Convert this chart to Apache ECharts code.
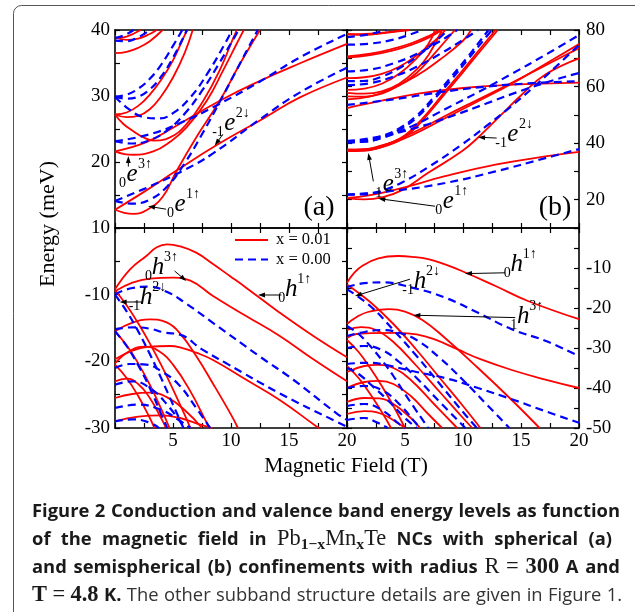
<!DOCTYPE html>
<html><head><meta charset="utf-8">
<script src="https://cdn.jsdelivr.net/npm/echarts@6/dist/echarts.min.js"></script>
<style>html,body{margin:0;padding:0;background:#fff}#c{width:635px;height:612px}</style>
</head><body><div id="c"></div>
<script>
// ---------- DATA ----------
// panel (a) conduction band, spherical, x = 0.01 (red) and x = 0.00 (blue)
const aRed = [
 [[0,12.76],[2.7,15.7],[5.3,18.7],[8.7,22.5],[12.8,26.6],[15.9,29.75],[20,32.8]],
 [[0,12.76],[0.8,12.3],[1.6,12.15],[2.7,12.7],[4.1,14.7],[5.3,18.6],[7,23.7],[9,29.2],[10.75,34.8],[12.5,40]],
 [[0,21.6],[2.7,23.0],[5,25.2],[9,29.25],[12.5,32.3],[16,35.0],[20,37.9]],
 [[0,21.6],[0.8,21.2],[1.6,21.1],[3.3,21.6],[4.7,23.0],[6.15,25.2],[7.9,29.25],[9.3,33.8],[10.6,38.3],[11.1,40]],
 [[0,27.2],[0.7,25.8],[1.55,24.7],[2.5,23.7],[3.3,23.25],[4.7,23.7],[6.15,25.7],[7.6,29.25],[9.0,33.8],[10.2,38.8],[10.5,40]],
 [[0,27.2],[1,27.5],[2,28.5],[3,30.2],[4,32.5],[5,35.4],[6,39.2],[6.25,40]],
 [[0,27.2],[1,26.8],[2,27],[3,28],[4,30],[5,32.8],[6,36.5],[6.7,40]],
 [[0,36.5],[1,36.7],[2,37.3],[3,38.3],[4.1,40]],
 [[0,38.9],[1,38.5],[2,38.7],[3,39.4],[3.6,40]],
 [[0,38.7],[1,39],[2.2,40]]
];
const aBlue = [
 [[0,14.1],[3,16.3],[6,18.8],[8.45,21.3],[12.76,26.8],[16,30.6],[20,34.3]],
 [[0,14.1],[1.5,13.7],[3,14.3],[4.5,16.3],[6,19.8],[7.5,24.2],[9,29],[10.5,34],[12,39],[12.3,40]],
 [[0,23.15],[3,24.2],[6,26.2],[9,28.8],[12.5,32.2],[16,35.9],[20,39.4]],
 [[0,23.15],[1.5,22.8],[3,23.3],[4.5,24.8],[6,27.3],[7.5,30.8],[9,35],[10.5,39.5],[10.7,40]],
 [[0,29.9],[1.2,28],[2.5,26.8],[3.8,26.6],[5,27.4],[6.5,29.8],[8,33.5],[9.5,38],[10.1,40]],
 [[0,29.9],[1,30.2],[2,31.1],[3,32.6],[4,34.8],[5,37.6],[5.8,40]],
 [[0,29.9],[1,29.6],[2,29.9],[3,31],[4,33],[5,35.8],[6.2,40]],
 [[0,38.4],[1,38.3],[2,38.9],[3,40]],
 [[0,38.8],[0.8,39.2],[1.6,40]]
];
// panel (b) conduction band, semispherical
const bRed = [
 [[0,20.6],[2,21.6],[4.7,24.1],[8.45,28.3],[12.8,32.4],[17.1,35.3],[20,36.9]],
 [[0,20.6],[1.5,20.1],[3,20.8],[4.7,23.3],[7,29.5],[9.9,37.1],[11.3,42],[13.05,49],[15.06,57.1],[17.07,64.2],[20,70]],
 [[0,37.7],[1.5,37.9],[2.7,38.6],[5.6,43.5],[8.45,49.6],[11.3,55.4],[14.2,61.3],[17.1,67.5],[20,73.6]],
 [[0,37.4],[1.5,37.5],[2.7,38.2],[5.6,42.8],[8.45,48.8],[11.3,54.8],[14.2,61],[17.1,68],[20,75]],
 [[0,37.7],[1.5,37.8],[3,39.2],[4,40.5],[5,42.8],[6,46.5],[7,51],[8.45,58.3],[9.9,65.4],[11.3,72.5],[12.8,80]],
 [[0,37.2],[1.5,37.3],[3,38.6],[4,40],[5,42.2],[6,45.8],[7,50.3],[8.45,57.5],[9.9,64.6],[11.3,71.6],[13,80]],
 [[0,52.4],[3,55],[6,57.4],[10,59.5],[14,60.6],[20,61.4]],
 [[0,57.8],[1.5,57.5],[3,58.3],[4.5,61],[6,66],[7,71],[8.2,80]],
 [[0,56.5],[1.5,56.4],[3,57.5],[4.5,60.4],[6,64.8],[7.5,71.5],[9.3,80]],
 [[0,58.8],[1.5,59.3],[3,61],[4.5,64.5],[6,70],[7,75],[7.6,80]],
 [[0,55.5],[2,56.5],[4,59.5],[6,63.8],[8,69.5],[10,76.2],[10.7,80]],
 [[0,63],[1.5,63.3],[3,64.5],[4.5,67],[6,71],[7.5,76],[8.5,80]],
 [[0,70.7],[2,71.6],[4,73.4],[5.6,75.4],[7,77.8],[8,80]],
 [[0,70.2],[2,71.1],[4,72.8],[5.6,74.8],[7,77.2],[8.2,80]],
 [[0,78.5],[1.5,78.3],[3,78.8],[4.9,80]],
 [[0,78.5],[2,78.7],[4,79.4],[5.4,80]]
];
const bBlue = [
 [[0,21.8],[4.1,23.2],[8.45,25.9],[12.8,30.0],[17.1,34.7],[20,37.9]],
 [[0,21.8],[1.5,21.9],[3,23.2],[4.7,26],[7,31.5],[9.9,39.5],[12,46],[14,52.5],[16,59.5],[18,67],[20,74.7]],
 [[0,40.3],[1.5,40.6],[3,41.8],[5.6,46],[8.45,52],[11.3,58],[14.2,64.5],[17.1,71.2],[20,78.2]],
 [[0,40.3],[1.5,40.5],[3,42],[4.5,44.7],[6,49],[7.5,55.5],[9,62.5],[10.5,70],[12,77.5],[12.5,80]],
 [[0,40.8],[1.5,41],[3,42.5],[4.5,45.2],[6,49.7],[7.5,56.3],[9,63.5],[10.5,71],[12.2,80]],
 [[0,40.6],[3,42.5],[6,45.5],[9,49.5],[12,54],[15,58.5],[18,62.5],[20,64.8]],
 [[0,53.5],[4,55.5],[8,58],[12,60],[16,61.2],[20,61.9]],
 [[0,61.9],[1.5,62],[3,63.5],[4.5,66.5],[6,70.5],[7.5,75.5],[8.7,80]],
 [[0,60.5],[2,61.2],[4,63.5],[6,67],[8,71.5],[10,76.5],[11.3,80]],
 [[0,65.4],[2,66],[4,68.2],[6,71.5],[8,76],[9.5,80]],
 [[0,74.8],[2,75.2],[4,76.6],[5.5,78.5],[6.5,80]],
 [[0,77.5],[1.5,78.2],[3,79.5],[3.4,80]]
];
// panel (c) valence band, spherical
const cRed = [
 [[0,-9.2],[1.3,-6.2],[2.7,-4.2],[3.6,-2.9],[4.5,-2.45],[5.6,-2.75],[7,-3.7],[8.45,-5.4],[9.9,-7.2],[11.3,-8.95],[14.2,-12.7],[17.1,-16.2],[20,-19.4]],
 [[0,-9.5],[1.5,-8.2],[3,-7.6],[5,-7.45],[6.5,-7.9],[8.45,-10.2],[11.3,-13.2],[14.2,-16.2],[17.1,-19.7],[20,-23]],
 [[0,-15.5],[1.5,-14.2],[3,-13.7],[4.5,-14.2],[5.6,-15.8],[7,-19.2],[8.5,-23.5],[10,-28],[10.6,-30]],
 [[0,-19.7],[1.5,-18.4],[3,-17.8],[4.7,-17.7],[5.6,-17.9],[7,-18.7],[8.45,-19.8],[11.35,-22.8],[14.2,-25.8],[17.4,-29.8],[17.6,-30]],
 [[0,-20.3],[1.3,-18.4],[2.6,-17.8],[3.8,-18.5],[5,-20.5],[6.5,-24.5],[8,-29.5],[8.2,-30]],
 [[0,-9.3],[1,-11.6],[2,-14.3],[3,-17.3],[4,-20.6],[5,-24.2],[6,-28],[6.5,-30]],
 [[0,-15.5],[1,-17.6],[2,-20.3],[3,-23.5],[4,-27.2],[4.7,-30]],
 [[0,-20.5],[1,-22.5],[2,-25.2],[3,-28.5],[3.4,-30]],
 [[0,-25.5],[1.5,-24.9],[3,-24.7],[4.5,-25.4],[6,-27.3],[7.5,-30]],
 [[0,-29],[2,-28.3],[4,-28.1],[5.6,-28.5],[7,-29.3],[8.4,-30]],
 [[0,-23],[1,-22.6],[2,-23.4],[3,-25.5],[4,-28.6],[4.4,-30]]
];
const cBlue = [
 [[0,-9.95],[1.5,-9.0],[3,-8.8],[4.5,-9.6],[5.9,-11.05],[8.5,-14.3],[12.5,-19.3],[15.4,-22.8],[19.1,-27.8],[20,-28.8]],
 [[0,-15.2],[1.5,-14.9],[3,-15.1],[4.3,-15.7],[5.6,-16.0],[7.5,-18.2],[9.6,-20.3],[14.2,-24.8],[18.8,-28.8],[20,-29.8]],
 [[0,-10],[1,-12.5],[2,-15.5],[3,-18.9],[4,-22.6],[5,-26.5],[5.9,-30]],
 [[0,-15.5],[1,-17.7],[2,-20.6],[3,-24],[4,-28],[4.5,-30]],
 [[0,-21],[1.3,-20.4],[2.7,-20.5],[4,-21.5],[5.5,-23.5],[7,-27],[8.2,-30]],
 [[0,-23.5],[1.5,-23],[3,-24],[4.5,-26.5],[6,-30]],
 [[0,-27],[2,-26.5],[4,-27.3],[5.5,-28.8],[6.5,-30]],
 [[0,-29],[1.5,-28.7],[3,-29.2],[3.8,-30]]
];
// panel (d) valence band, semispherical
const dRed = [
 [[0,-13.7],[0.6,-11.3],[1.3,-9.5],[2.7,-7.6],[4.4,-7.0],[5.6,-7.2],[7,-7.8],[8.45,-9.1],[9.9,-10.75],[12.8,-14.5],[15.6,-18.25],[20,-22.8]],
 [[0,-24],[0.8,-22.3],[1.8,-21.0],[3.6,-20.3],[5,-20.9],[6.5,-23],[8.45,-27.5],[11.3,-35],[14.2,-43],[16.6,-50]],
 [[0,-27.5],[0.8,-26.5],[2,-26.3],[4.4,-26.2],[6,-26.6],[7.5,-27.8],[9.5,-30.3],[11.5,-32.8],[14.2,-35.5],[17.1,-37.9],[20,-40]],
 [[0,-14.1],[2,-18.5],[4,-24],[6,-30.5],[8,-37.5],[10,-44.5],[11.5,-50]],
 [[0,-25.5],[1.2,-24.8],[2.5,-25.5],[4,-28.5],[6,-34.5],[8,-41],[10,-47.5],[10.8,-50]],
 [[0,-36],[1.5,-34.5],[2.7,-34.2],[4,-35],[5.5,-38],[7.5,-44],[9.5,-50]],
 [[0,-40],[1.5,-38.5],[2.8,-38.2],[4,-39],[5.5,-42],[7,-46.5],[8.2,-50]],
 [[0,-43.5],[1.5,-42.5],[2.8,-42.6],[4,-44],[5.5,-47.5],[6.3,-50]],
 [[0,-46.5],[1.5,-45.8],[3,-46.5],[4.5,-49],[5,-50]],
 [[0,-28],[1,-31],[2,-35],[3,-39.5],[4,-44.5],[5,-50]],
 [[0,-34.5],[1,-37.5],[2,-41.5],[3,-46],[3.8,-50]]
];
const dBlue = [
 [[0,-14.8],[1.5,-13.8],[3,-13.6],[5.6,-14.9],[8.45,-17.4],[11.3,-21.2],[14.2,-25.3],[17.1,-28.2],[20,-32]],
 [[0,-34],[1.5,-33.7],[3,-34],[4.5,-35],[6,-36],[8.45,-37.5],[11.3,-40],[14.2,-42.8],[17.1,-45.8],[20,-48.7]],
 [[0,-27],[1.5,-26],[3,-25.5],[4.5,-26.2],[6,-28],[8,-32.5],[10,-38],[12,-44],[14,-50]],
 [[0,-15.3],[2,-19.5],[4,-25.5],[6,-32],[8,-39],[10,-46],[11.2,-50]],
 [[0,-30],[1.5,-29.5],[3,-30.5],[4.5,-33.5],[6,-37.5],[8,-43.5],[10.2,-50]],
 [[0,-35],[1,-36.5],[2,-39],[3.5,-43],[5,-47.5],[6,-50]],
 [[0,-40],[1.5,-39.5],[3,-40.5],[4.5,-44],[6,-49],[6.3,-50]],
 [[0,-44.5],[1.5,-44],[3,-45.5],[4.5,-49],[5,-50]],
 [[0,-48],[1.5,-47.5],[2.5,-48.5],[3.5,-50]],
 [[0,-24.5],[1,-26.5],[2,-29.5],[3,-33],[4,-37],[5,-41.5],[7,-50]]
];
const legendNames = ['x = 0.01', 'x = 0.00'];
const panelTags = ['(a)', '(b)'];
// annotations: grid index, letter, left subscript, superscript, text position, arrow from/to (data coords)
const notes = [
 {g:0, m:'e', pre:'0',  sup:'3↑', at:[1.47,18.13], from:[1.15,19.3], to:[1.15,20.9]},
 {g:0, m:'e', pre:'0',  sup:'1↑', at:[5.6,13.6],  from:[4.4,12.85], to:[2.85,13.3]},
 {g:0, m:'e', pre:'-1', sup:'2↓', at:[9.9,25.8],  from:[9.3,24.2],  to:[8.6,22.5]},
 {g:1, m:'e', pre:'1',  sup:'3↑', at:[3.56,25.3], from:[2.27,26.5], to:[1.84,36.5]},
 {g:1, m:'e', pre:'0',  sup:'1↑', at:[8.73,19.5], from:[7.59,17.7], to:[2.7,20.4]},
 {g:1, m:'e', pre:'-1', sup:'2↓', at:[14.3,43.0], from:[12.9,41.8], to:[11.3,42.1]},
 {g:2, m:'h', pre:'0',  sup:'3↑', at:[3.7,-5.95], from:[5.14,-6.45],to:[6.15,-7.95]},
 {g:2, m:'h', pre:'-1', sup:'2↓', at:[2.7,-10.45],from:[2.41,-11.1],to:[0.4,-11.1]},
 {g:2, m:'h', pre:'0',  sup:'1↑', at:[15.2,-9.2], from:[14.34,-10.05],to:[12.33,-10.05]},
 {g:3, m:'h', pre:'0',  sup:'1↑', at:[14.63,-9.1],from:[13.62,-11.2],to:[10.17,-11.4]},
 {g:3, m:'h', pre:'-1', sup:'2↓', at:[6.29,-13.25],from:[5.43,-12.8],to:[0.69,-17.0]},
 {g:3, m:'h', pre:'1',  sup:'3↑', at:[15.2,-22.0], from:[14.5,-22.4], to:[5.72,-21.8]}
];

// ---------- CHART ----------
const RED = '#ff0000', BLUE = '#0000ff';
const SERIF = '"Liberation Serif", "Times New Roman", serif';
const chart = echarts.init(document.getElementById('c'), null, {renderer:'canvas'});

const grids = [
 {left:115, top:30,  width:232, height:198},
 {left:347, top:30,  width:232, height:198},
 {left:115, top:228, width:232, height:200},
 {left:347, top:228, width:232, height:200}
];
const yRange = [[10,40,2],[10,80,0],[-30,0,2],[-50,0,2]];

function baseAxis(){
 return {
  axisLine:{show:true,onZero:false,lineStyle:{color:'#000',width:1.6}},
  axisTick:{show:true,inside:true,length:5,lineStyle:{color:'#000',width:1.2}},
  splitLine:{show:false}, minorSplitLine:{show:false}
 };
}
const xAxes = [], yAxes = [];
for (let g=0; g<4; g++){
 ['bottom','top'].forEach(pos=>{
  const showLab = (g>=2 && pos==='bottom');
  xAxes.push(Object.assign(baseAxis(), {
   type:'value', gridIndex:g, position:pos, min:0, max:20, interval:5,
   minorTick:{show:true,splitNumber:2,length:5,lineStyle:{color:'#000',width:1.2}},
   axisLabel:{show:showLab, margin:4, fontFamily:SERIF, fontSize:19, color:'#000',
     showMinLabel:true, showMaxLabel:true, formatter:v=>v===0?'':String(v)}
  }));
 });
 ['left','right'].forEach(pos=>{
  const [mn,mx,minor] = yRange[g];
  const showLab = (g%2===0 && pos==='left') || (g%2===1 && pos==='right');
  let fmt;
  if (g===0) fmt = v=>String(v);
  else if (g===1) fmt = v=>(v%20===0?String(v):'');
  else fmt = v=>(v===0?'':String(v));
  yAxes.push(Object.assign(baseAxis(), {
   type:'value', gridIndex:g, position:pos, min:mn, max:mx, interval:10,
   minorTick:{show:minor>0,splitNumber:minor||2,length:5,lineStyle:{color:'#000',width:1.2}},
   axisLabel:{show:showLab, margin:pos==='left'?5:7, fontFamily:SERIF, fontSize:19, color:'#000',
     showMinLabel:true, showMaxLabel:true, formatter:fmt}
  }));
 });
}

const series = [];
function addCurves(curves, isRed, g){
 curves.forEach(c=>series.push({
  type:'line', name: isRed?legendNames[0]:legendNames[1], data:c,
  xAxisIndex:2*g, yAxisIndex:2*g, symbol:'none', showSymbol:false,
  smooth:0.45, silent:true, clip:true,
  lineStyle: isRed?{color:RED,width:1.8}:{color:BLUE,width:2.2,type:[8,5]},
  z: isRed?2:3
 }));
}
addCurves(aRed,true,0); addCurves(bRed,true,1); addCurves(cRed,true,2); addCurves(dRed,true,3);
addCurves(aBlue,false,0); addCurves(bBlue,false,1); addCurves(cBlue,false,2); addCurves(dBlue,false,3);

chart.setOption({
 animation:false, backgroundColor:'#fff',
 grid:grids, xAxis:xAxes, yAxis:yAxes, series:series
});

// ---------- TEXT / DECORATION ----------
const mctx = document.createElement('canvas').getContext('2d');
function cssFont(st){ return (st.style||'normal')+' '+(st.weight||'normal')+' '+st.size+'px '+st.family; }
function tw(t, st){ mctx.font = cssFont(st); return mctx.measureText(t).width; }
function baseOff(st){ mctx.font = cssFont(st); mctx.textBaseline='middle'; const m = mctx.measureText('H'); mctx.textBaseline='alphabetic'; return m.actualBoundingBoxDescent; }
function txt(t, x, y, st, align, vAlign, extra){
 return Object.assign({type:'text', x:x, y:y, z:100, silent:true, style:{
  text:t, fontFamily:st.family, fontSize:st.size, fontWeight:st.weight||'normal', fontStyle:st.style||'normal',
  fill:st.fill||'#000', align:align||'left', verticalAlign:vAlign||'middle'}}, extra||{});
}
const gfx = [];
gfx.push({type:'rect', z:100, silent:true, shape:{x:13.5,y:5.5,width:700,height:700,r:8}, style:{fill:'none',stroke:'#555',lineWidth:1}});
gfx.push(txt('Energy (meV)', 48, 224, {family:SERIF,size:22}, 'center','middle',{rotation:Math.PI/2}));
gfx.push(txt('Magnetic Field (T)', 346, 466, {family:SERIF,size:21.5}, 'center','middle'));
gfx.push(txt(panelTags[0], 319, 208, {family:SERIF,size:28}, 'center','middle'));
gfx.push(txt(panelTags[1], 555, 208, {family:SERIF,size:28}, 'center','middle'));
gfx.push({type:'line', z:100, silent:true, shape:{x1:235,y1:240,x2:268,y2:240}, style:{stroke:RED,lineWidth:1.8}});
gfx.push({type:'line', z:100, silent:true, shape:{x1:235,y1:259.5,x2:268,y2:259.5}, style:{stroke:BLUE,lineWidth:2.2,lineDash:[8,5]}});
gfx.push(txt(legendNames[0], 276, 240, {family:SERIF,size:16.5}, 'left','middle'));
gfx.push(txt(legendNames[1], 276, 259.5, {family:SERIF,size:16.5}, 'left','middle'));

const mainSt = {family:SERIF,size:25,style:'italic'}, smallSt = {family:SERIF,size:14};
notes.forEach(n=>{
 const conv = p=>chart.convertToPixel({xAxisIndex:2*n.g, yAxisIndex:2*n.g}, p);
 const P = conv(n.at), A = conv(n.from), B = conv(n.to);
 const dx=B[0]-A[0], dy=B[1]-A[1], L=Math.hypot(dx,dy)||1, ux=dx/L, uy=dy/L, len=7, w=2.4;
 gfx.push({type:'line', z:100, silent:true, shape:{x1:A[0],y1:A[1],x2:B[0]-ux*len*0.6,y2:B[1]-uy*len*0.6}, style:{stroke:'#000',lineWidth:1}});
 gfx.push({type:'polygon', z:100, silent:true, shape:{points:[[B[0],B[1]],[B[0]-ux*len-uy*w,B[1]-uy*len+ux*w],[B[0]-ux*len+uy*w,B[1]-uy*len-ux*w]]}, style:{fill:'#000'}});
 gfx.push(txt(n.m, P[0], P[1], mainSt, 'center','middle'));
 gfx.push(txt(n.pre, P[0]-6, P[1]+9, smallSt, 'right','middle'));
 gfx.push(txt(n.sup, P[0]+6, P[1]-10, smallSt, 'left','middle'));
});

// caption (justified)
const capSegs = [
 [['Figure 2 Conduction and valence band energy levels as function','B']],
 [['of the magnetic field in ','B'],['Pb','M'],['1−x','S'],['Mn','M'],['x','S'],['Te','M'],[' NCs with spherical (a)','B']],
 [['and semispherical (b) confinements with radius ','B'],['R','M'],[' = ','M'],['300','MB'],[' A and','B']],
 [['T','MB'],[' = ','M'],['4.8','MB'],[' K.','B'],[' The other subband structure details are given in Figure 1.','R']]
];
function buildWords(segs){
 const words=[]; let cur=[];
 segs.forEach(([t,k])=>{
  t.split(' ').forEach((p,i)=>{
   if(i>0){ if(cur.length) words.push(cur); cur=[]; }
   if(p.length) cur.push({t:p,k:k});
  });
 });
 if(cur.length) words.push(cur);
 return words;
}
const SANS = '"Open Sans", "Noto Sans", sans-serif';
function capStyles(cs){
 return {
  B:{family:SANS,weight:'bold',size:cs,fill:'#1a1a1a'},
  R:{family:SANS,weight:'normal',size:cs,fill:'#333'},
  M:{family:SERIF,weight:'normal',size:cs*1.22,fill:'#1a1a1a'},
  MB:{family:SERIF,weight:'bold',size:cs*1.22,fill:'#1a1a1a'},
  S:{family:SERIF,weight:'bold',size:cs*0.85,fill:'#1a1a1a',dy:4}
 };
}
const capLines = capSegs.map(buildWords);
function wordW(word, S){ return word.reduce((s,p)=>s+tw(p.t,S[p.k]),0); }
let cs = 17;
{
 const S = capStyles(17);
 const nat = capLines[0].reduce((s,wd)=>s+wordW(wd,S),0) + (capLines[0].length-1)*tw(' ',S.B);
 cs = Math.max(14, Math.min(20, 17*582/nat));
}
const CS = capStyles(cs);
const capX0 = 32, capX1 = [620, 612, 620, 622], capBase = [516.5,544.8,573.1,601.4];
capLines.forEach((words,li)=>{
 const total = words.reduce((s,wd)=>s+wordW(wd,CS),0);
 const gap = (capX1[li]-capX0-total)/(words.length-1);
 let x = capX0;
 words.forEach(wd=>{
  wd.forEach(p=>{
   const st = CS[p.k];
   const yb = capBase[li] + (st.dy||0);
   gfx.push(txt(p.t, x, yb - baseOff(st), st, 'left','middle'));
   x += tw(p.t, st);
  });
  x += gap;
 });
});

chart.setOption({graphic: gfx});
</script></body></html>
